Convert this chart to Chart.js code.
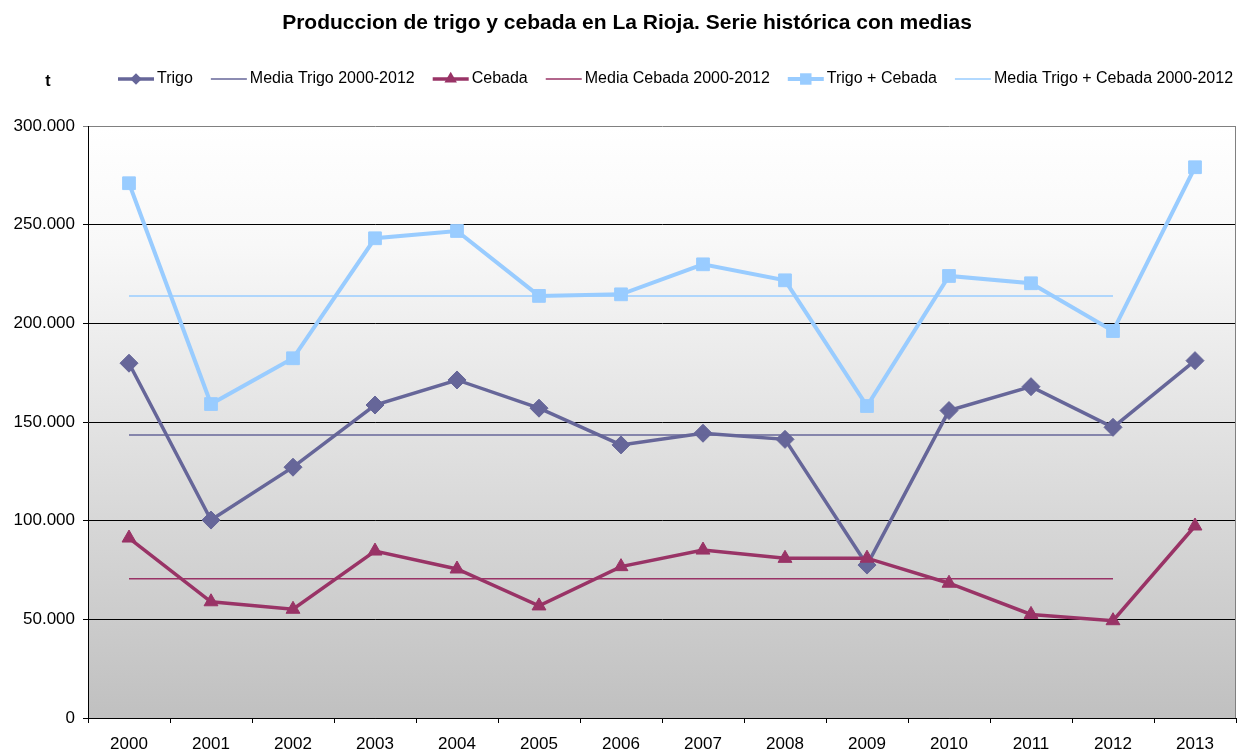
<!DOCTYPE html>
<html>
<head>
<meta charset="utf-8">
<title>Produccion de trigo y cebada en La Rioja</title>
<script src="https://cdn.jsdelivr.net/npm/chart.js"></script>
<style>
  html, body { margin: 0; padding: 0; background: #fff; }
  #wrap { width: 1239px; height: 749px; }
</style>
</head>
<body>
<div id="wrap"><canvas id="chart" width="1239" height="749"></canvas></div>
<script>
// datos (t)
const years = ['2000', '2001', '2002', '2003', '2004', '2005', '2006', '2007', '2008', '2009', '2010', '2011', '2012', '2013'];
const trigo = [179800, 100300, 127100, 158600, 171300, 157000, 138400, 144300, 141200, 77500, 155800, 167900, 147300, 181100];
const cebada = [91200, 58900, 55100, 84600, 75500, 56800, 76700, 85100, 80900, 81000, 68300, 52500, 49300, 97300];
const trigoCebada = [271000, 159100, 182300, 243100, 246800, 213900, 214700, 229900, 221800, 158100, 224000, 220300, 196100, 279100];
const mediaTrigo = [143400, 143400, 143400, 143400, 143400, 143400, 143400, 143400, 143400, 143400, 143400, 143400, 143400, null];
const mediaCebada = [70600, 70600, 70600, 70600, 70600, 70600, 70600, 70600, 70600, 70600, 70600, 70600, 70600, null];
const mediaTotal = [213900, 213900, 213900, 213900, 213900, 213900, 213900, 213900, 213900, 213900, 213900, 213900, 213900, null];
const yTicks = [0, 50000, 100000, 150000, 200000, 250000, 300000];

const FONT = "'Liberation Sans', Arial, sans-serif";
Chart.defaults.font.family = FONT;
Chart.defaults.color = '#000';

function miles(v) {
  return String(v).replace(/\B(?=(\d{3})+(?!\d))/g, '.');
}

function marker(ctx, style, x, y, r) {
  const s = r * Math.SQRT1_2;
  ctx.beginPath();
  if (style === 'rectRot') {
    ctx.moveTo(x - s, y); ctx.lineTo(x, y - s); ctx.lineTo(x + s, y); ctx.lineTo(x, y + s);
  } else if (style === 'rect') {
    ctx.rect(x - s, y - s, 2 * s, 2 * s);
  } else if (style === 'triangle') {
    const a = 2 * Math.PI / 3;
    ctx.moveTo(x, y - r);
    ctx.lineTo(x + Math.sin(a) * r, y - Math.cos(a) * r);
    ctx.lineTo(x + Math.sin(2 * a) * r, y - Math.cos(2 * a) * r);
  }
  ctx.closePath();
  ctx.fill();
}

// fondo degradado del area de trazado
const fondo = {
  id: 'fondo',
  beforeDraw(chart) {
    const { ctx, chartArea: a } = chart;
    const g = ctx.createLinearGradient(0, a.top, 0, a.bottom);
    g.addColorStop(0, '#ffffff');
    g.addColorStop(0.2, '#f8f8f8');
    g.addColorStop(1, '#c0c0c0');
    ctx.save();
    ctx.fillStyle = g;
    ctx.fillRect(a.left, a.top, a.right - a.left, a.bottom - a.top);
    ctx.restore();
  }
};

// titulo, unidad y leyenda al estilo de la hoja de calculo
const rotulos = {
  id: 'rotulos',
  afterDraw(chart) {
    const { ctx, chartArea: a } = chart;
    ctx.save();
    ctx.strokeStyle = '#808080';
    ctx.lineWidth = 1;
    ctx.beginPath();
    ctx.moveTo(Math.round(a.right) - 0.5, a.top);
    ctx.lineTo(Math.round(a.right) - 0.5, a.bottom);
    ctx.stroke();

    ctx.fillStyle = '#000';
    ctx.textBaseline = 'middle';
    ctx.textAlign = 'center';
    ctx.font = 'bold 21px ' + FONT;
    ctx.fillText('Produccion de trigo y cebada en La Rioja. Serie histórica con medias', 627, 23);

    ctx.font = 'bold 16px ' + FONT;
    ctx.fillText('t', 48, 82);

    ctx.textAlign = 'left';
    ctx.font = '16px ' + FONT;
    let x = 118;
    const y = 79;
    chart.data.datasets.forEach(ds => {
      ctx.strokeStyle = ds.borderColor;
      ctx.lineWidth = ds.borderWidth;
      ctx.beginPath();
      ctx.moveTo(x, y);
      ctx.lineTo(x + 36, y);
      ctx.stroke();
      if (ds.pointRadius > 0) {
        ctx.fillStyle = ds.borderColor;
        marker(ctx, ds.pointStyle, x + 18, y, ds.pointRadius * 0.9);
      }
      ctx.fillStyle = '#000';
      ctx.fillText(ds.label, x + 39, y);
      x += 39 + ctx.measureText(ds.label).width + 18;
    });
    ctx.restore();
  }
};

function serie(label, data, color, width, style, radius, order) {
  return {
    label: label,
    data: data,
    borderColor: color,
    backgroundColor: color,
    borderWidth: width,
    pointStyle: style,
    pointRadius: radius,
    pointBorderWidth: 1,
    pointHoverRadius: radius,
    tension: 0,
    spanGaps: false,
    order: order
  };
}

new Chart(document.getElementById('chart'), {
  type: 'line',
  data: {
    labels: years,
    datasets: [
      serie('Trigo', trigo, '#666699', 3.5, 'rectRot', 9, 6),
      serie('Media Trigo 2000-2012', mediaTrigo, '#666699', 1.5, 'circle', 0, 5),
      serie('Cebada', cebada, '#993366', 3.5, 'triangle', 8, 4),
      serie('Media Cebada 2000-2012', mediaCebada, '#993366', 1.5, 'circle', 0, 3),
      serie('Trigo + Cebada', trigoCebada, '#99ccff', 4, 'rect', 9, 2),
      serie('Media Trigo + Cebada 2000-2012', mediaTotal, '#99ccff', 1.5, 'circle', 0, 1)
    ]
  },
  options: {
    responsive: false,
    animation: false,
    layout: { autoPadding: false, padding: { top: 126, right: 3, left: 0, bottom: 0 } },
    plugins: {
      legend: { display: false },
      title: { display: false },
      tooltip: { enabled: false }
    },
    scales: {
      x: {
        type: 'category',
        offset: true,
        afterFit(scale) {
          scale.height = 31;
          scale.paddingLeft = 0;
          scale.paddingRight = 0;
        },
        grid: { offset: true, drawOnChartArea: false, tickLength: 5, color: '#000' },
        border: { display: true, color: '#000', width: 1 },
        ticks: { font: { size: 17 }, color: '#000', padding: 11, maxRotation: 0, autoSkip: false }
      },
      y: {
        min: 0,
        max: 300000,
        afterFit(scale) { scale.width = 88; },
        afterBuildTicks(scale) { scale.ticks = yTicks.map(v => ({ value: v })); },
        grid: {
          color: c => (c.tick && c.tick.value === 300000) ? '#808080' : '#000',
          lineWidth: 1,
          tickLength: 5
        },
        border: { display: true, color: '#000', width: 1 },
        ticks: { font: { size: 17 }, color: '#000', padding: 8, callback: v => miles(v) }
      }
    }
  },
  plugins: [fondo, rotulos]
});
</script>
</body>
</html>
